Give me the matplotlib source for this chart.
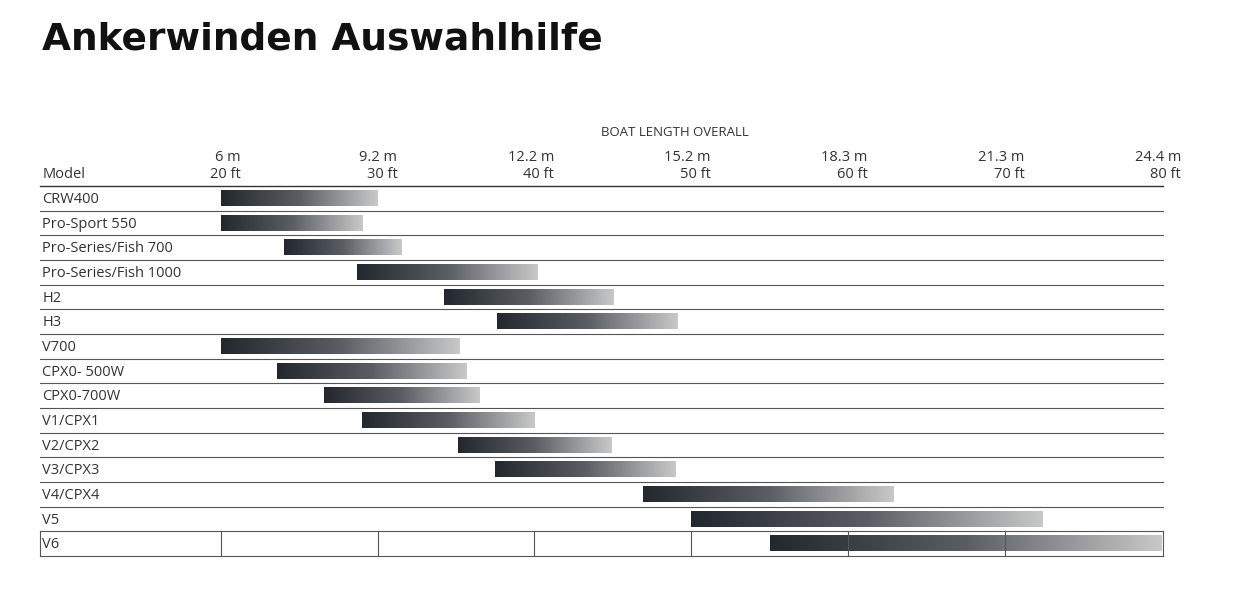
import numpy as np
import matplotlib
matplotlib.use("Agg")
import matplotlib.pyplot as plt
from matplotlib.colors import LinearSegmentedColormap

models = ["CRW400", "Pro-Sport 550", "Pro-Series/Fish 700", "Pro-Series/Fish 1000",
          "H2", "H3", "V700", "CPX0- 500W", "CPX0-700W", "V1/CPX1", "V2/CPX2",
          "V3/CPX3", "V4/CPX4", "V5", "V6"]
start_ft = [20, 20, 24, 28.7, 34.2, 37.6, 20, 23.6, 26.6, 29, 35.1, 37.5, 46.9, 50, 55]
end_ft = [30, 29, 31.5, 40.2, 45, 49.1, 35.2, 35.7, 36.5, 40, 44.9, 49, 62.9, 72.4, 80]
tick_ft = [20, 30, 40, 50, 60, 70, 80]
tick_m = ["6 m", "9.2 m", "12.2 m", "15.2 m", "18.3 m", "21.3 m", "24.4 m"]
tick_ftlab = ["20 ft", "30 ft", "40 ft", "50 ft", "60 ft", "70 ft", "80 ft"]

W, H = 1255, 611
fig = plt.figure(figsize=(W/100, H/100), dpi=100)
fig.patch.set_facecolor("white")
ax = fig.add_axes([40/W, 1-556/H, (1163-40)/W, (556-186)/H])
ax.set_xlim(8.45, 80.1)
n = len(models)
ax.set_ylim(n, 0)
ax.axis("off")

cmap = LinearSegmentedColormap.from_list("g", ["#23272e", "#5a5e64", "#c8c8c8"])
grad = np.linspace(0, 1, 256).reshape(1, -1)
bh = 0.62
for i, (m, s, e) in enumerate(zip(models, start_ft, end_ft)):
    ax.imshow(grad, cmap=cmap, aspect="auto", extent=(s, e, i + 0.5 + bh/2, i + 0.5 - bh/2),
              interpolation="bilinear", zorder=3)
    ax.text(8.6, i + 0.55, m, fontsize=10.5, color="#333333", va="center", ha="left",
            family="Open Sans")
    ax.plot([8.45, 80.1], [i + 1, i + 1], color="#555555", lw=0.8, zorder=2, clip_on=False)
ax.plot([8.45, 80.1], [0, 0], color="#333333", lw=1.0, clip_on=False)
ax.plot([8.45, 8.45], [n - 1, n], color="#555555", lw=0.8, clip_on=False)
ax.plot([80.1, 80.1], [n - 1, n], color="#555555", lw=0.8, clip_on=False)
for t in tick_ft[:-1]:
    ax.plot([t, t], [n - 1, n], color="#555555", lw=0.8, zorder=4)

for t, lm, lf in zip(tick_ft, tick_m, tick_ftlab):
    ax.text(t + 1.25, -0.45, lf, fontsize=10.5, color="#333333", ha="right", va="center",
            family="Open Sans")
    ax.text(t + 1.25, -1.15, lm, fontsize=10.5, color="#333333", ha="right", va="center",
            family="Open Sans")
ax.text(8.6, -0.45, "Model", fontsize=10.5, color="#333333", ha="left", va="center",
        family="Open Sans")
fig.text(675/W, 1-132/H, "BOAT LENGTH OVERALL", fontsize=9.5, color="#333333",
         ha="center", va="center", family="Open Sans")
fig.text(42/W, 1-40/H, "Ankerwinden Auswahlhilfe", fontsize=27, fontweight="bold",
         color="#111111", ha="left", va="center", family="DejaVu Sans")
fig.savefig("out.png", dpi=100)
